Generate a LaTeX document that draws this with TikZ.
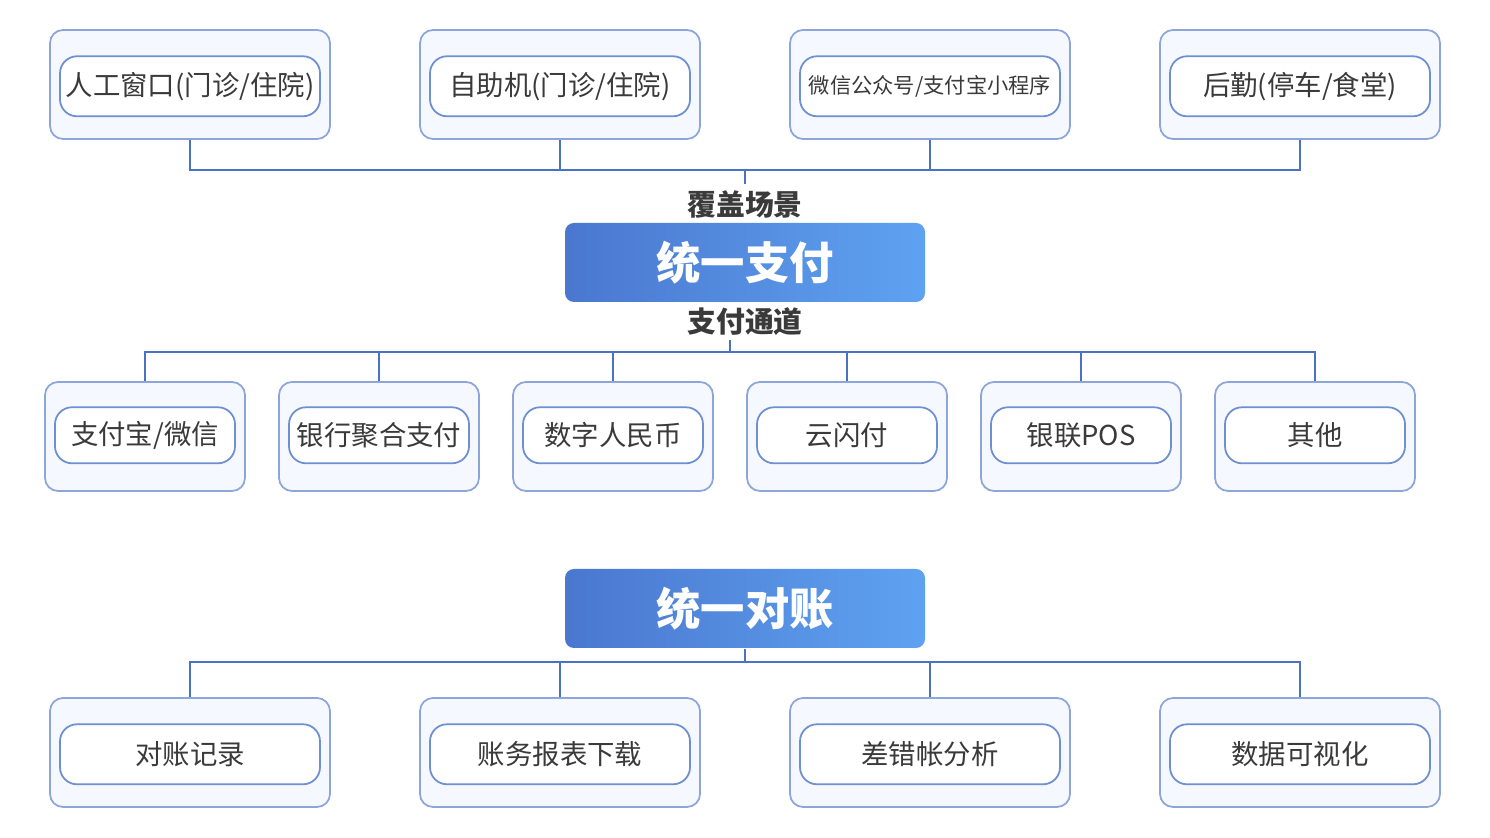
\documentclass[tikz,border=0pt]{standalone}
\usepackage{fontspec}
\setmainfont{Noto Sans CJK SC}
\usepackage{xcolor}
\usetikzlibrary{positioning}

\definecolor{linkblue}{HTML}{4A72C2}
\definecolor{edgeblue}{HTML}{8CA6DA}
\definecolor{inedge}{HTML}{6E8FD2}
\definecolor{boxfill}{HTML}{F5F8FE}
\definecolor{textgrey}{HTML}{3A3A3A}
\definecolor{gradleft}{HTML}{4A77CF}
\definecolor{gradright}{HTML}{5FA2F1}

\begin{document}
\begin{tikzpicture}[
    link/.style={draw=linkblue, line width=0.6pt},
    outerbox/.style={draw=edgeblue, fill=boxfill, line width=0.5pt, rounded corners=0.13cm, minimum width=2.8cm, minimum height=1.09cm, inner sep=0pt},
    smallouter/.style={outerbox, minimum width=2.0cm},
    pill/.style={draw=inedge, fill=white, line width=0.5pt, rounded corners=0.17cm, inner sep=0pt, text=textgrey, font=\fontsize{7.8pt}{9pt}\selectfont},
    innerbox/.style={pill, minimum width=2.6cm, minimum height=0.6cm, yshift=-0.018cm},
    smallinner/.style={pill, minimum width=1.8cm, minimum height=0.56cm, yshift=0.012cm},
    mainbox/.style={left color=gradleft, right color=gradright, draw=none, rounded corners=0.09cm, minimum width=3.6cm, minimum height=0.79cm, text=white, font=\fontsize{12.6pt}{14pt}\selectfont\bfseries},
    tag/.style={text=textgrey, inner sep=0pt, font=\fontsize{8.2pt}{9pt}\selectfont\bfseries}
]
\useasboundingbox (0,0) rectangle (14.9,8.38);

% scenes on top
\node[outerbox] (sceneA) at (1.90,7.535) {};
\node[outerbox] (sceneB) at (5.60,7.535) {};
\node[outerbox] (sceneC) at (9.30,7.535) {};
\node[outerbox] (sceneD) at (13.00,7.535) {};
\node[innerbox] (sceneAtxt) at (sceneA) {人工窗口(门诊/住院)};
\node[innerbox] (sceneBtxt) at (sceneB) {自助机(门诊/住院)};
\node[innerbox, font=\fontsize{6.05pt}{8pt}\selectfont] (sceneCtxt) at (sceneC) {微信公众号/支付宝小程序};
\node[innerbox] (sceneDtxt) at (sceneD) {后勤(停车/食堂)};

% unified payment
\node[mainbox] (pay) at (7.45,5.755) {统一支付};
\node[tag] (cover) at (7.45,6.33) {覆盖场景};
\node[tag] (route) at (7.45,5.16) {支付通道};

\coordinate (topbus) at (7.45,6.68);
\draw[link] (sceneA.south) |- (topbus) -| (sceneD.south);
\draw[link] (sceneB.south) -- (sceneB.south |- topbus);
\draw[link] (sceneC.south) -- (sceneC.south |- topbus);
\draw[link] (topbus) -- ++(0,-0.14);

% channels
\node[smallouter] (chanA) at (1.45,4.015) {};
\node[smallouter] (chanB) at (3.79,4.015) {};
\node[smallouter] (chanC) at (6.13,4.015) {};
\node[smallouter] (chanD) at (8.47,4.015) {};
\node[smallouter] (chanE) at (10.81,4.015) {};
\node[smallouter] (chanF) at (13.15,4.015) {};
\node[smallinner] (chanAtxt) at (chanA) {支付宝/微信};
\node[smallinner] (chanBtxt) at (chanB) {银行聚合支付};
\node[smallinner] (chanCtxt) at (chanC) {数字人民币};
\node[smallinner] (chanDtxt) at (chanD) {云闪付};
\node[smallinner] (chanEtxt) at (chanE) {银联POS};
\node[smallinner] (chanFtxt) at (chanF) {其他};

\coordinate (midbus) at (7.30,4.86);
\draw[link] (chanA.north) |- (midbus) -| (chanF.north);
\draw[link] (chanB.north) -- (chanB.north |- midbus);
\draw[link] (chanC.north) -- (chanC.north |- midbus);
\draw[link] (chanD.north) -- (chanD.north |- midbus);
\draw[link] (chanE.north) -- (chanE.north |- midbus);
\draw[link] (midbus) -- ++(0,0.12);

% unified reconciliation
\node[mainbox] (recon) at (7.45,2.295) {统一对账};

\node[outerbox] (reconA) at (1.90,0.855) {};
\node[outerbox] (reconB) at (5.60,0.855) {};
\node[outerbox] (reconC) at (9.30,0.855) {};
\node[outerbox] (reconD) at (13.00,0.855) {};
\node[innerbox] (reconAtxt) at (reconA) {对账记录};
\node[innerbox] (reconBtxt) at (reconB) {账务报表下载};
\node[innerbox] (reconCtxt) at (reconC) {差错帐分析};
\node[innerbox] (reconDtxt) at (reconD) {数据可视化};

\coordinate (lowbus) at (7.45,1.76);
\draw[link] (recon.south) -- (lowbus);
\draw[link] (reconA.north) |- (lowbus) -| (reconD.north);
\draw[link] (reconB.north) -- (reconB.north |- lowbus);
\draw[link] (reconC.north) -- (reconC.north |- lowbus);
\end{tikzpicture}
\end{document}
